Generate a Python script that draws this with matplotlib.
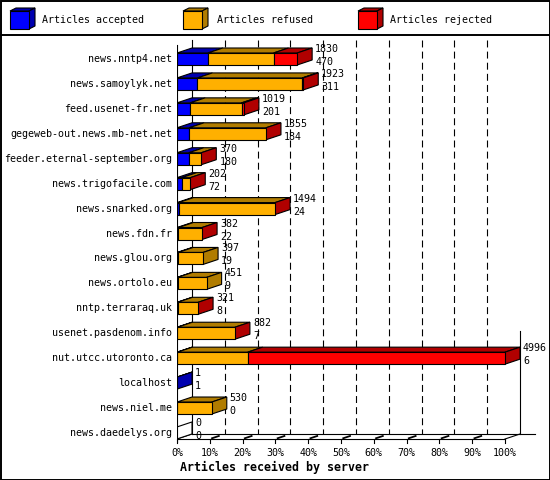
import matplotlib.pyplot as plt
from matplotlib.patches import Polygon, Rectangle

plt.rcParams['lines.scale_dashes'] = False

# servers, top to bottom
hosts = ['news.nntp4.net', 'news.samoylyk.net', 'feed.usenet-fr.net',
         'gegeweb-out.news.mb-net.net', 'feeder.eternal-september.org',
         'news.trigofacile.com', 'news.snarked.org', 'news.fdn.fr',
         'news.glou.org', 'news.ortolo.eu', 'nntp.terraraq.uk',
         'usenet.pasdenom.info', 'nut.utcc.utoronto.ca', 'localhost',
         'news.niel.me', 'news.daedelys.org']
totals = [1830, 1923, 1019, 1355, 370, 202, 1494, 382, 397, 451, 321, 882, 4996, 1, 530, 0]
accepted = [470, 311, 201, 184, 180, 72, 24, 22, 19, 9, 8, 7, 6, 1, 0, 0]
# (None = not drawn)
refused = [1000, 1597, 782, 1171, 190, 130, 1470, 360, 378, 442, 313, 875, 1070, None, 530, None]
rejected = [360, 15, 36, 0, 0, 0, 0, 0, None, None, 0, 0, 3920, None, None, None]

series_names = ['Articles accepted', 'Articles refused', 'Articles rejected']
front_cols = ['#0000FF', '#FFB000', '#FF0000']
dark_cols = ['#0000B0', '#B07C00', '#B00000']
xticks = list(range(0, 101, 10))

W, H = 550, 480
fig = plt.figure(figsize=(5.5, 4.8), dpi=100)

# background / frame in pixel coords
bg = fig.add_axes([0, 0, 1, 1])
bg.set_xlim(0, W)
bg.set_ylim(H, 0)
bg.axis('off')
bg.add_patch(Rectangle((0.5, 0.5), W - 1, H - 1, fill=False, ec='black', lw=1.4))
bg.plot([0, W], [35, 35], color='black', lw=1.4)

mono = 'DejaVu Sans Mono'
fs = 7.2

# legend
leg_x = [10, 183, 358]
leg_tx = [42, 217, 390]
for i in range(3):
    x0, x1, y0, y1 = leg_x[i], leg_x[i] + 19, 11, 29
    d, e = 6, 3
    bg.add_patch(Polygon([(x0, y0), (x0 + d, y0 - e), (x1 + d, y0 - e), (x1, y0)],
                         closed=True, fc=dark_cols[i], ec='black', lw=0.8))
    bg.add_patch(Polygon([(x1, y0), (x1 + d, y0 - e), (x1 + d, y1 - e), (x1, y1)],
                         closed=True, fc=dark_cols[i], ec='black', lw=0.8))
    bg.add_patch(Rectangle((x0, y0), x1 - x0, y1 - y0, fc=front_cols[i], ec='black', lw=0.8))
    bg.text(leg_tx[i], 20, series_names[i], fontfamily=mono, fontsize=fs, va='center', ha='left')

# main plot area: x in percent of max total, y in rows
px_per_pct = 3.28
row_px = 24.93
row0_px = 59
left_px, right_px, top_px, bot_px = 177, 545, 38, 443
ax = fig.add_axes([left_px / W, 1 - bot_px / H, (right_px - left_px) / W, (bot_px - top_px) / H])
ax.set_xlim(0, (right_px - left_px) / px_per_pct)
ax.set_ylim((bot_px - row0_px) / row_px, (top_px - row0_px) / row_px)
ax.axis('off')
ax.patch.set_alpha(0)

dx = 15 / px_per_pct
dy = 5 / row_px
h = 6 / row_px
floor = (439 - row0_px) / row_px
ytop_front = (45 - row0_px) / row_px
ytop_back = (40 - row0_px) / row_px
lw = 0.8

# back wall, grid, floor
ax.plot([dx, dx], [ytop_back, floor - dy], color='black', lw=lw, zorder=1)
for t in xticks[1:-1]:
    ax.plot([t + dx, t + dx], [ytop_back, floor - dy], color='black', lw=lw,
            dashes=(5, 3), zorder=1)
ax.plot([100 + dx, 100 + dx], [10.9, floor - dy], color='black', lw=lw, zorder=1)
ax.plot([dx, (535 - left_px) / px_per_pct], [floor - dy, floor - dy], color='black', lw=lw, zorder=1)
ax.plot([0, 100], [floor, floor], color='black', lw=lw, zorder=1)
ax.plot([0, 0], [ytop_front, floor + 4 / row_px], color='black', lw=lw, zorder=6)
ax.plot([0, dx], [floor, floor - dy], color='black', lw=lw, zorder=1)
ax.plot([100, 100 + dx], [floor, floor - dy], color='black', lw=lw, zorder=1)
for t in xticks:
    ax.plot([t, t], [floor, floor + 4 / row_px], color='black', lw=lw, clip_on=False)
    if 0 < t < 100:
        ax.plot([t + 0.15 * dx, t + 0.6 * dx], [floor - 0.15 * dy, floor - 0.6 * dy],
                color='black', lw=1.3, zorder=1)
    ax.text(t, (453 - row0_px) / row_px, f'{t}%', fontfamily=mono, fontsize=fs,
            ha='center', va='center', clip_on=False)

ax.text(0.9, (467 - row0_px) / row_px, 'Articles received by server', fontfamily=mono,
        fontsize=8.4, fontweight='bold', ha='left', va='center', clip_on=False)

maxv = max(totals)
for r, host in enumerate(hosts):
    ax.text(-5 / px_per_pct, r, host, fontfamily=mono, fontsize=fs, ha='right', va='center',
            clip_on=False)
    vals = [accepted[r], refused[r], rejected[r]]
    x = 0.0
    last = None
    for i, v in enumerate(vals):
        if v is None:
            continue
        w = v / maxv * 100
        if w > 0:
            ax.add_patch(Polygon([(x, r - h), (x + dx, r - h - dy), (x + w + dx, r - h - dy), (x + w, r - h)],
                                 closed=True, fc=dark_cols[i], ec='black', lw=lw, zorder=4))
            ax.add_patch(Rectangle((x, r - h), w, 2 * h, fc=front_cols[i], ec='black', lw=lw, zorder=5))
        x += w
        last = i
    side_fc = 'white' if totals[r] == 0 else dark_cols[last]
    ax.add_patch(Polygon([(x, r - h), (x + dx, r - h - dy), (x + dx, r + h - dy), (x, r + h)],
                         closed=True, fc=side_fc, ec='black', lw=lw, zorder=4))
    lx = x + dx + 3 / px_per_pct
    ax.text(lx, r - 10 / row_px, str(totals[r]), fontfamily=mono, fontsize=fs,
            ha='left', va='center', clip_on=False, zorder=7)
    ax.text(lx, r + 3 / row_px, str(accepted[r]), fontfamily=mono, fontsize=fs,
            ha='left', va='center', clip_on=False, zorder=7)

fig.savefig('out.png', dpi=100)
